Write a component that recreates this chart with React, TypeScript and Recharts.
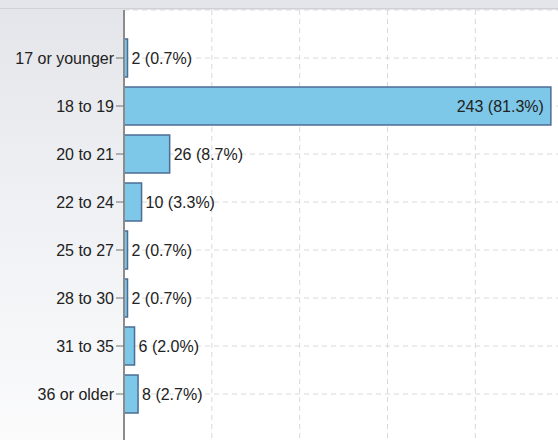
import { BarChart, Bar, XAxis, YAxis, CartesianGrid, LabelList } from "recharts";

const categories = [
  "17 or younger",
  "18 to 19",
  "20 to 21",
  "22 to 24",
  "25 to 27",
  "28 to 30",
  "31 to 35",
  "36 or older",
];
const counts = [2, 243, 26, 10, 2, 2, 6, 8];
const xTicks = [0, 50, 100, 150, 200, 250, 300];

const total = counts.reduce((s, v) => s + v, 0);
const data = categories.map((category, i) => ({ category, count: counts[i] }));

const FONT = "'Liberation Sans', Arial, sans-serif";

const renderLabel = (props: any) => {
  const { x, y, width, height, value } = props;
  const text = `${value} (${((value / total) * 100).toFixed(1)}%)`;
  const inside = width > 200;
  return (
    <text
      x={inside ? x + width - 7 : x + width + 4}
      y={y + height / 2}
      textAnchor={inside ? "end" : "start"}
      dominantBaseline="central"
      fill="#222"
      fontSize={16}
      fontFamily={FONT}
    >
      {text}
    </text>
  );
};

// x ticks only drive the vertical gridlines; their labels fall below the crop
const emptyTick = () => <g />;

const App = () => {
  return (
    <div
      style={{
        position: "absolute",
        left: 0,
        top: 0,
        width: 558,
        height: 440,
        overflow: "hidden",
        background: "linear-gradient(to bottom, #e3e5ea 0%, #eef0f3 45%, #fbfbfc 100%)",
      }}
    >
      <div style={{ position: "absolute", left: 0, top: 8, width: 558, height: 1, background: "#cfd1d5" }} />
      <BarChart
        width={656}
        height={490}
        data={data}
        layout="vertical"
        margin={{ top: 10, right: 5, bottom: 0, left: 0 }}
        barSize={38}
      >
        <CartesianGrid stroke="#d9d9d9" strokeDasharray="5 4" fill="#ffffff" />
        <XAxis type="number" domain={[0, 300]} ticks={xTicks} height={48} axisLine={false} tickLine={false} tick={emptyTick} />
        <YAxis
          type="category"
          dataKey="category"
          width={124}
          padding={{ top: 24, bottom: 24 }}
          axisLine={{ stroke: "#8c8c8c", strokeWidth: 2 }}
          tickLine={{ stroke: "#6e6e6e" }}
          tickSize={8}
          tick={{ fill: "#222", fontSize: 16, fontFamily: FONT }}
          interval={0}
        />
        <Bar dataKey="count" fill="#7dc7e8" stroke="#4d6d96" strokeWidth={1.5} isAnimationActive={false}>
          <LabelList dataKey="count" content={renderLabel} />
        </Bar>
      </BarChart>
    </div>
  );
};

export default App;
